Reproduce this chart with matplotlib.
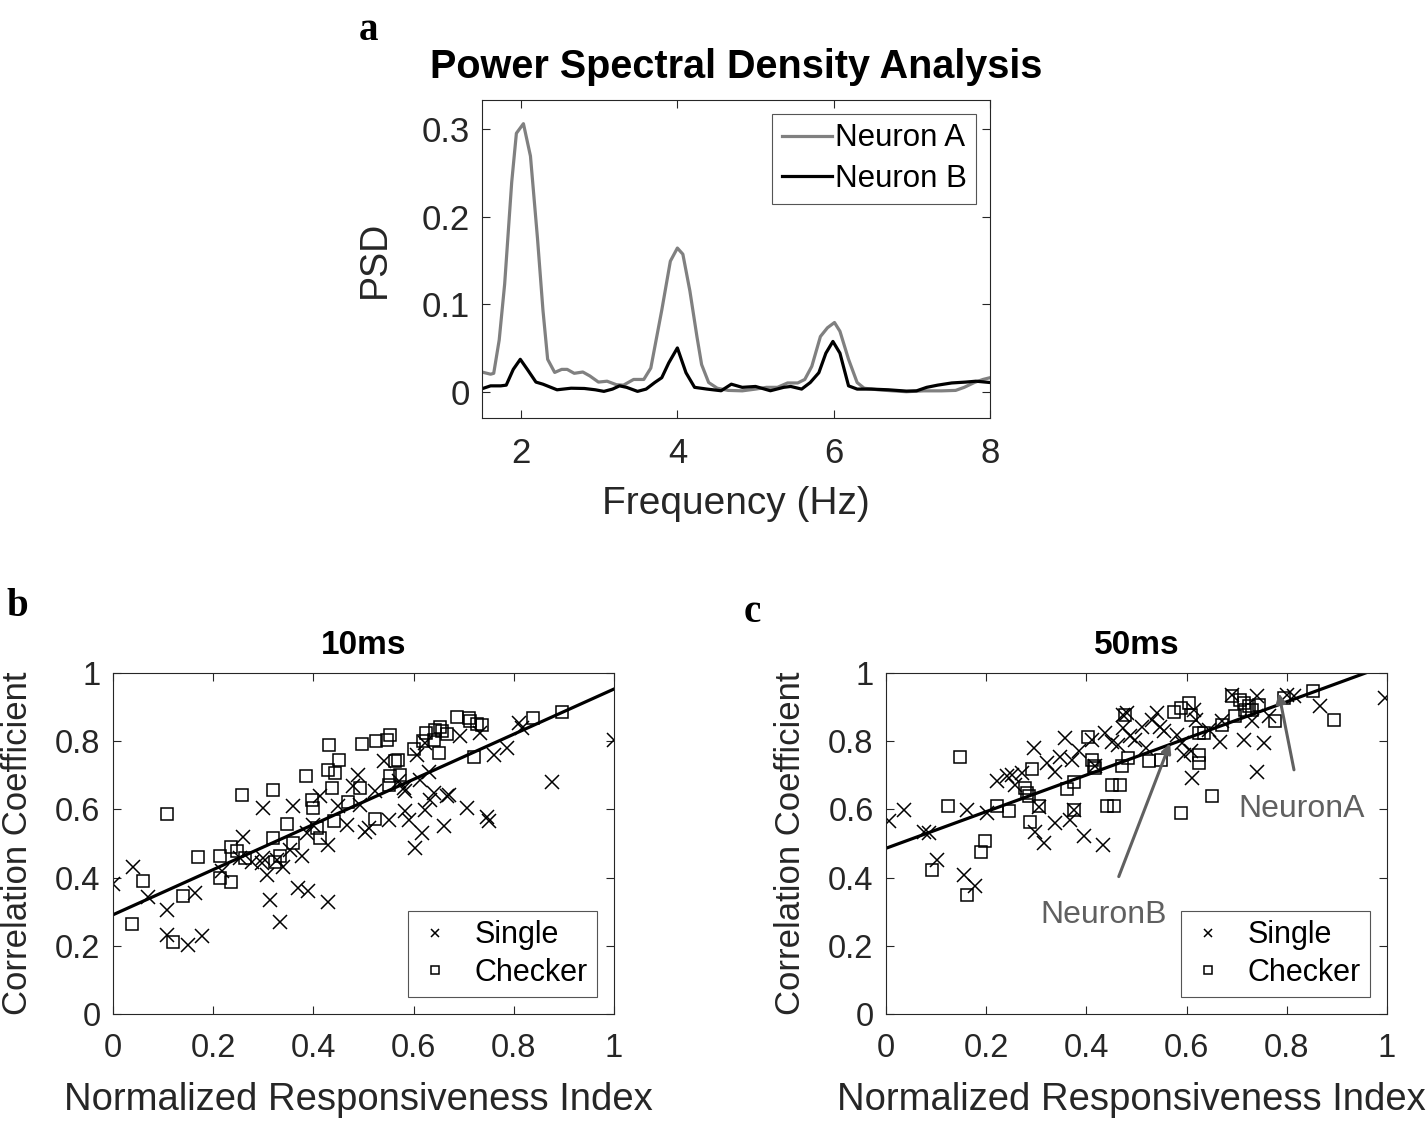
import numpy as np
import matplotlib.pyplot as plt

plt.rcParams['font.family'] = ['Liberation Sans', 'DejaVu Sans']

# ---- panel a: PSD curves
freq_a = [1.52, 1.61, 1.65, 1.72, 1.79, 1.88, 1.94, 2.03, 2.12, 2.21, 2.28, 2.34,
          2.43, 2.52, 2.59, 2.68, 2.79, 2.88, 2.99, 3.10, 3.22, 3.31, 3.44, 3.57,
          3.66, 3.80, 3.91, 4.00, 4.07, 4.16, 4.25, 4.31, 4.40, 4.51, 4.65, 4.83,
          5.00, 5.14, 5.28, 5.41, 5.54, 5.63, 5.72, 5.83, 5.92, 6.01, 6.08, 6.19,
          6.30, 6.39, 6.57, 6.75, 6.93, 7.15, 7.38, 7.56, 7.67, 7.80, 7.91, 8.00]
psd_a = [0.022, 0.020, 0.021, 0.059, 0.123, 0.239, 0.295, 0.306, 0.269, 0.175, 0.093, 0.037,
         0.022, 0.0255, 0.0255, 0.021, 0.0225, 0.018, 0.011, 0.012, 0.008, 0.0075, 0.014, 0.014,
         0.027, 0.093, 0.149, 0.164, 0.157, 0.115, 0.063, 0.031, 0.0105, 0.004, 0.0015, 0.001,
         0.003, 0.005, 0.005, 0.010, 0.010, 0.014, 0.029, 0.063, 0.073, 0.079, 0.069, 0.037,
         0.0105, 0.004, 0.0022, 0.001, 0.000, 0.001, 0.001, 0.0015, 0.005, 0.0105, 0.014, 0.016]

freq_b = [1.52, 1.61, 1.74, 1.81, 1.90, 1.99, 2.08, 2.19, 2.28, 2.46, 2.64, 2.81,
          2.95, 3.06, 3.17, 3.26, 3.35, 3.49, 3.60, 3.71, 3.80, 3.89, 4.00, 4.11,
          4.22, 4.38, 4.56, 4.69, 4.83, 5.00, 5.19, 5.36, 5.45, 5.59, 5.70, 5.81,
          5.90, 5.99, 6.08, 6.19, 6.30, 6.48, 6.70, 6.93, 7.06, 7.19, 7.33, 7.51,
          7.69, 7.82, 8.00]
psd_b = [0.004, 0.0067, 0.0067, 0.0075, 0.0255, 0.037, 0.0255, 0.011, 0.0086, 0.0022, 0.004, 0.0037,
         0.0022, 0.0004, 0.003, 0.0067, 0.005, 0.0004, 0.003, 0.0105, 0.016, 0.033, 0.050, 0.0217,
         0.005, 0.003, 0.0011, 0.0086, 0.005, 0.006, 0.0011, 0.005, 0.006, 0.003, 0.0105, 0.0217,
         0.044, 0.0574, 0.044, 0.0067, 0.003, 0.003, 0.0022, 0.0007, 0.001, 0.005, 0.0075, 0.010,
         0.011, 0.012, 0.0105]

# ---- panel b: 10ms
b_single_x = [0.0, 0.04, 0.07, 0.107, 0.107, 0.15, 0.177, 0.163, 0.217, 0.26, 0.253, 0.277,
              0.30, 0.30, 0.297, 0.307, 0.313, 0.333, 0.327, 0.34, 0.353, 0.36, 0.377, 0.37,
              0.39, 0.387, 0.40, 0.413, 0.43, 0.43, 0.45, 0.467, 0.48, 0.49, 0.493, 0.503,
              0.51, 0.523, 0.54, 0.55, 0.57, 0.58, 0.583, 0.59, 0.603, 0.607, 0.613, 0.617,
              0.623, 0.623, 0.63, 0.633, 0.64, 0.66, 0.667, 0.67, 0.693, 0.707, 0.733, 0.747,
              0.75, 0.76, 0.787, 0.81, 0.817, 0.877, 1.0, 0.583]
b_single_y = [0.382, 0.432, 0.344, 0.305, 0.232, 0.203, 0.229, 0.354, 0.418, 0.52, 0.457, 0.447,
              0.604, 0.457, 0.442, 0.408, 0.333, 0.271, 0.452, 0.432, 0.481, 0.609, 0.462, 0.369,
              0.362, 0.53, 0.555, 0.638, 0.496, 0.327, 0.609, 0.555, 0.668, 0.702, 0.613, 0.535,
              0.545, 0.653, 0.741, 0.569, 0.682, 0.662, 0.594, 0.569, 0.486, 0.76, 0.687, 0.53,
              0.599, 0.795, 0.711, 0.628, 0.648, 0.55, 0.638, 0.643, 0.814, 0.604, 0.824, 0.579,
              0.565, 0.76, 0.78, 0.853, 0.839, 0.679, 0.804, 0.653]
b_checker_x = [0.037, 0.06, 0.107, 0.119, 0.139, 0.169, 0.213, 0.213, 0.235, 0.235, 0.247, 0.257,
               0.263, 0.319, 0.319, 0.323, 0.333, 0.347, 0.36, 0.385, 0.397, 0.40, 0.407, 0.413,
               0.431, 0.43, 0.443, 0.438, 0.452, 0.442, 0.47, 0.493, 0.498, 0.525, 0.523, 0.547,
               0.552, 0.55, 0.553, 0.562, 0.569, 0.573, 0.60, 0.619, 0.625, 0.64, 0.643, 0.65,
               0.653, 0.657, 0.667, 0.687, 0.71, 0.713, 0.727, 0.737, 0.721, 0.838, 0.897]
b_checker_y = [0.264, 0.391, 0.587, 0.212, 0.346, 0.46, 0.462, 0.398, 0.388, 0.489, 0.479, 0.643,
               0.457, 0.656, 0.516, 0.447, 0.462, 0.558, 0.501, 0.697, 0.628, 0.604, 0.545, 0.516,
               0.79, 0.716, 0.708, 0.662, 0.744, 0.567, 0.623, 0.662, 0.793, 0.80, 0.571, 0.804,
               0.819, 0.672, 0.697, 0.741, 0.746, 0.701, 0.777, 0.80, 0.824, 0.804, 0.834, 0.765,
               0.843, 0.829, 0.822, 0.871, 0.868, 0.858, 0.851, 0.848, 0.753, 0.868, 0.885]
b_fit_x = [0.0, 1.0]
b_fit_y = [0.291, 0.953]

# ---- panel c: 50ms
c_single_x = [0.005, 0.035, 0.075, 0.085, 0.102, 0.155, 0.178, 0.162, 0.202, 0.222, 0.241, 0.251,
              0.258, 0.271, 0.295, 0.298, 0.315, 0.305, 0.321, 0.338, 0.338, 0.348, 0.358, 0.368,
              0.371, 0.385, 0.395, 0.411, 0.418, 0.434, 0.438, 0.451, 0.464, 0.474, 0.481, 0.488,
              0.498, 0.511, 0.518, 0.531, 0.541, 0.547, 0.554, 0.581, 0.591, 0.594, 0.608, 0.611,
              0.614, 0.618, 0.644, 0.667, 0.671, 0.691, 0.714, 0.731, 0.741, 0.741, 0.754, 0.764,
              0.80, 0.814, 0.867, 0.997, 0.474, 0.375]
c_single_y = [0.565, 0.599, 0.535, 0.53, 0.452, 0.408, 0.374, 0.599, 0.589, 0.682, 0.697, 0.702,
              0.672, 0.707, 0.78, 0.535, 0.501, 0.608, 0.736, 0.711, 0.56, 0.755, 0.809, 0.569,
              0.746, 0.77, 0.521, 0.804, 0.726, 0.496, 0.824, 0.799, 0.79, 0.839, 0.883, 0.814,
              0.804, 0.843, 0.78, 0.863, 0.883, 0.843, 0.829, 0.819, 0.795, 0.76, 0.77, 0.692,
              0.892, 0.863, 0.834, 0.799, 0.858, 0.936, 0.804, 0.858, 0.711, 0.932, 0.795, 0.873,
              0.936, 0.932, 0.902, 0.927, 0.878, 0.599]
c_checker_x = [0.092, 0.124, 0.148, 0.162, 0.19, 0.198, 0.222, 0.245, 0.278, 0.281, 0.285, 0.291,
               0.288, 0.306, 0.361, 0.375, 0.375, 0.403, 0.411, 0.415, 0.418, 0.441, 0.456, 0.451,
               0.468, 0.471, 0.478, 0.484, 0.524, 0.548, 0.574, 0.588, 0.588, 0.604, 0.608, 0.624,
               0.624, 0.624, 0.634, 0.651, 0.671, 0.691, 0.697, 0.707, 0.714, 0.717, 0.724, 0.731,
               0.744, 0.777, 0.794, 0.852, 0.894]
c_checker_y = [0.423, 0.609, 0.755, 0.349, 0.474, 0.506, 0.609, 0.594, 0.662, 0.648, 0.638, 0.718,
               0.562, 0.609, 0.659, 0.679, 0.599, 0.812, 0.746, 0.728, 0.721, 0.609, 0.609, 0.672,
               0.672, 0.726, 0.878, 0.75, 0.741, 0.746, 0.885, 0.897, 0.589, 0.912, 0.878, 0.824,
               0.76, 0.736, 0.824, 0.64, 0.848, 0.932, 0.873, 0.922, 0.912, 0.892, 0.902, 0.892,
               0.907, 0.858, 0.927, 0.946, 0.863]
c_fit_x = [0.0, 0.957]
c_fit_y = [0.486, 1.0]

W, H = 1427, 1124
fig = plt.figure(figsize=(W / 100, H / 100), dpi=100)

AX_COL = '#262626'


def px_axes(left, top, right, bottom):
    return fig.add_axes([left / W, 1 - bottom / H, (right - left) / W, (bottom - top) / H])


def style(ax, fs, xpad, ypad):
    for s in ax.spines.values():
        s.set_color(AX_COL)
        s.set_linewidth(0.8)
    ax.tick_params(direction='in', length=6, width=0.8, colors=AX_COL,
                   labelsize=fs, top=True, right=True)
    ax.tick_params(axis='x', pad=xpad)
    ax.tick_params(axis='y', pad=ypad)


def frame(leg):
    leg.get_frame().set_edgecolor('#555555')
    leg.get_frame().set_linewidth(0.8)


# panel a
ax = px_axes(482, 100, 990, 418)
ax.plot(freq_a, psd_a, color='#808080', lw=2.3, label='Neuron A')
ax.plot(freq_b, psd_b, color='black', lw=2.3, label='Neuron B')
ax.set_xlim(1.5, 8)
ax.set_ylim(-0.03, 0.333)
ax.set_xticks([2, 4, 6, 8])
ax.set_yticks([0, 0.1, 0.2, 0.3])
ax.set_yticklabels(['0', '0.1', '0.2', '0.3'])
style(ax, 25, 14, 9)
ax.set_xlabel('Frequency (Hz)', fontsize=28, color=AX_COL)
ax.set_ylabel('PSD', fontsize=27, color=AX_COL)
ax.xaxis.set_label_coords(0.5, -0.215)
ax.yaxis.set_label_coords(-0.175, 0.5)
ax.set_title('Power Spectral Density Analysis', fontsize=28.5, fontweight='bold', pad=16)
leg = ax.legend(loc='upper right', fontsize=22.5, handlelength=1.6, handletextpad=0.1,
                borderpad=0.3, labelspacing=0.35, fancybox=False, framealpha=1,
                borderaxespad=0.45)
frame(leg)


def scatter_panel(left, right, title, sx, sy, cx, cy, fx, fy):
    ax = px_axes(left, 673, right, 1014)
    ax.plot(sx, sy, 'x', color='black', ms=10, mew=1.1, label='Single')
    ax.plot(cx, cy, 's', mfc='none', mec='black', ms=9, mew=1.1, label='Checker')
    ax.plot(fx, fy, '-', color='black', lw=2.3)
    ax.set_xlim(0, 1)
    ax.set_ylim(0, 1)
    ax.set_xticks([0, 0.2, 0.4, 0.6, 0.8, 1])
    ax.set_xticklabels(['0', '0.2', '0.4', '0.6', '0.8', '1'])
    ax.set_yticks([0, 0.2, 0.4, 0.6, 0.8, 1])
    ax.set_yticklabels(['0', '0.2', '0.4', '0.6', '0.8', '1'])
    style(ax, 23.5, 14, 9)
    ax.set_xlabel('Normalized Responsiveness Index', fontsize=27.5, color=AX_COL)
    ax.set_ylabel('Correlation Coefficient', fontsize=25, color=AX_COL)
    ax.xaxis.set_label_coords(0.49, -0.2)
    ax.yaxis.set_label_coords(-0.157, 0.5)
    ax.set_title(title, fontsize=24, fontweight='bold', pad=14)
    leg = ax.legend(loc='lower right', fontsize=22, markerscale=0.6, handlelength=1.2,
                    handletextpad=0.7, borderpad=0.3, labelspacing=0.25, fancybox=False,
                    framealpha=1, borderaxespad=0.55)
    frame(leg)
    return ax


scatter_panel(113, 614, '10ms', b_single_x, b_single_y, b_checker_x, b_checker_y, b_fit_x, b_fit_y)
axc = scatter_panel(886, 1387, '50ms', c_single_x, c_single_y, c_checker_x, c_checker_y, c_fit_x, c_fit_y)

arrow_col = '#606060'
axc.annotate('NeuronB', xy=(0.567, 0.794), xytext=(0.435, 0.29), fontsize=23, color=arrow_col,
             ha='center', va='center',
             arrowprops=dict(arrowstyle='-|>', color=arrow_col, lw=2.2, mutation_scale=14,
                             shrinkA=16, shrinkB=0))
axc.annotate('NeuronA', xy=(0.784, 0.941), xytext=(0.83, 0.60), fontsize=23, color=arrow_col,
             ha='center', va='center',
             arrowprops=dict(arrowstyle='-|>', color=arrow_col, lw=2.2, mutation_scale=14,
                             shrinkA=16, shrinkB=0))

# panel letters
for letter, x, y in [('a', 368, 30), ('b', 17, 606), ('c', 752, 612)]:
    fig.text(x / W, 1 - y / H, letter, fontsize=28, fontweight='bold',
             family='Liberation Serif', ha='center', va='center')

fig.savefig('out.png', dpi=100)
